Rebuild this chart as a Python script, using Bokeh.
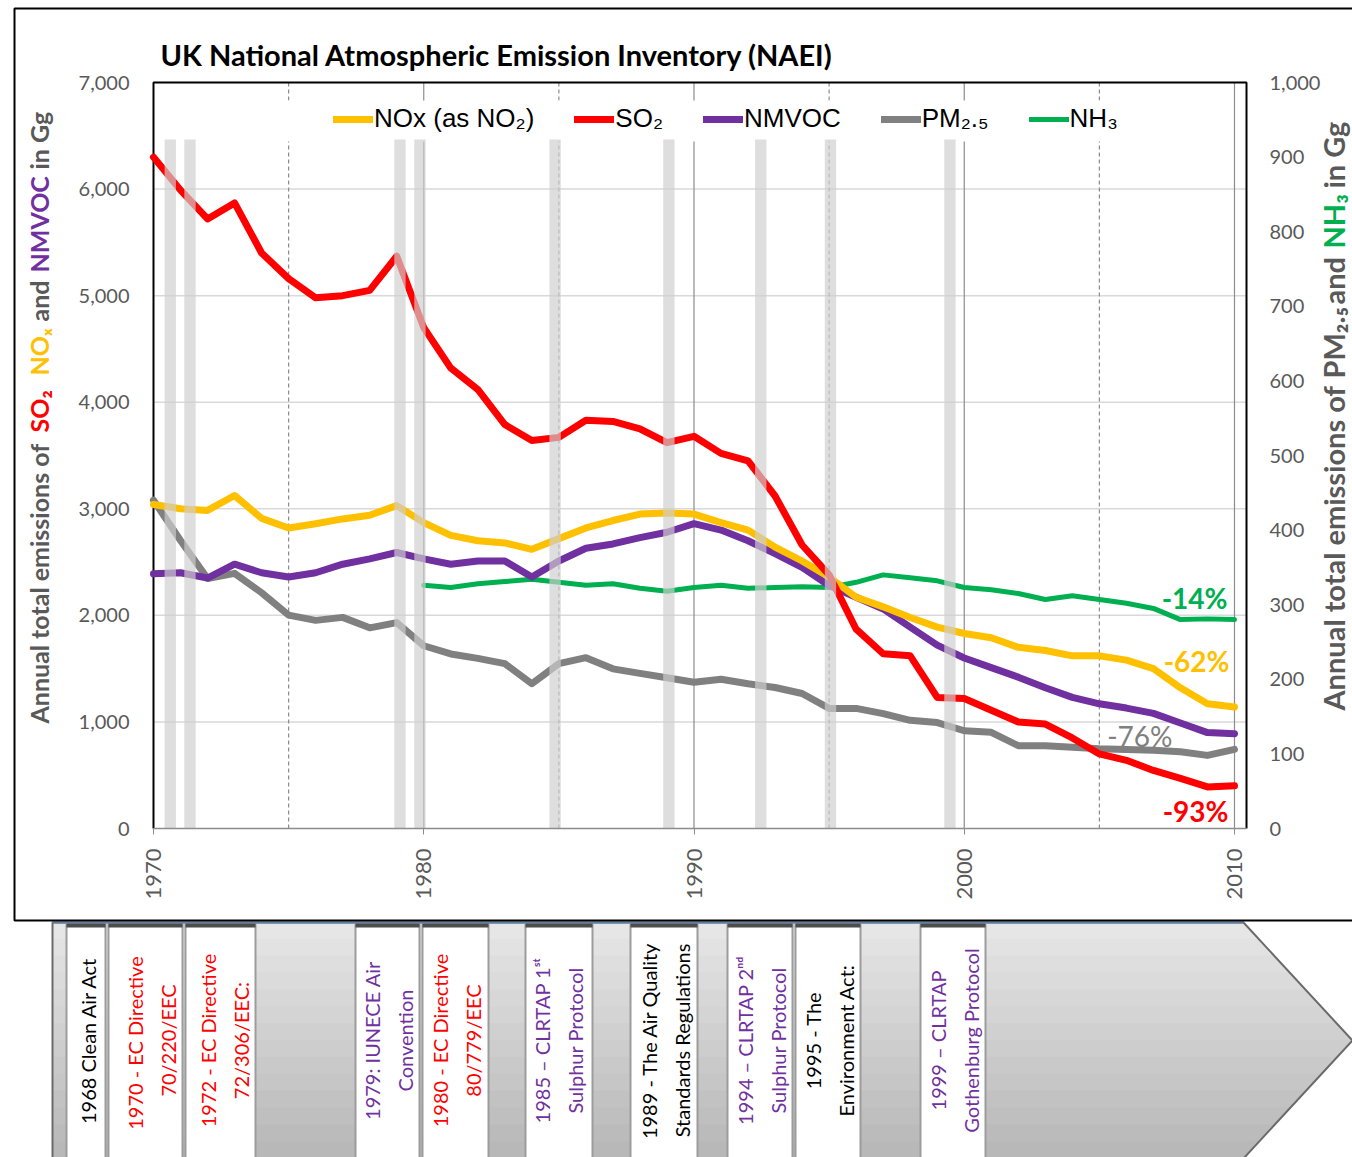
from math import pi
from bokeh.plotting import figure
from bokeh.models import (Range1d, LinearAxis, FixedTicker, NumeralTickFormatter, Legend,
                          LegendItem, Label, BoxAnnotation, ColumnDataSource)
from bokeh.embed import file_html
from bokeh.resources import INLINE
from bokeh.core.properties import value

# ---------------- data ----------------
years = list(range(1970, 2011))
so2 = [6300, 5990, 5720, 5870, 5400, 5160, 4980, 5000, 5050, 5370,
       4700, 4320, 4120, 3790, 3640, 3670, 3830, 3820, 3750, 3620,
       3680, 3520, 3450, 3120, 2660, 2380, 1870, 1640, 1620, 1230,
       1220, 1110, 1000, 980, 850, 700, 640, 545, 470, 390, 400]
nox = [3040, 3000, 2985, 3125, 2910, 2820, 2860, 2905, 2940, 3030,
       2870, 2750, 2700, 2680, 2620, 2720, 2820, 2890, 2950, 2960,
       2950, 2870, 2800, 2640, 2510, 2360, 2170, 2080, 1980, 1890,
       1830, 1790, 1700, 1670, 1620, 1620, 1580, 1500, 1320, 1170, 1140]
nmvoc = [2390, 2400, 2350, 2480, 2400, 2360, 2400, 2480, 2530, 2590,
         2530, 2480, 2510, 2510, 2360, 2510, 2630, 2670, 2730, 2780,
         2860, 2800, 2700, 2580, 2450, 2280, 2170, 2060, 1890, 1720,
         1600, 1510, 1420, 1320, 1230, 1170, 1130, 1080, 990, 900, 890]
pm25 = [440, 386, 335, 342, 316, 286, 279, 283, 269, 276,
        245, 234, 228, 221, 194, 221, 229, 214, 208, 202,
        196, 200, 194, 189, 181, 161, 161, 154, 145, 142,
        131, 129, 111, 111, 109, 107, 106, 105, 103, 98, 106]
nh3_years = list(range(1980, 2011))
nh3 = [326, 323, 328, 331, 334, 330, 326, 328, 322, 318,
       323, 326, 322, 323, 324, 323, 330, 340, 336, 332,
       323, 320, 315, 307, 312, 307, 302, 295, 280, 281, 280]

series_names = ["NOx (as NO₂)", "SO₂", "NMVOC", "PM₂.₅", "NH₃"]
series_colors = ["#FFC000", "#FF0000", "#7030A0", "#808080", "#00B050"]
change_text = ["-14%", "-62%", "-76%", "-93%"]
change_colors = ["#00B050", "#FFC000", "#808080", "#FF0000"]
event_years = [1970.62, 1971.35, 1979.12, 1979.86, 1984.86, 1989.07, 1992.47, 1995.05, 1999.47]
left_ticks = list(range(0, 7001, 1000))
right_ticks = list(range(0, 1001, 100))
x_ticks = [1970, 1980, 1990, 2000, 2010]
x_solid = [1980, 1990, 2000, 2010]
x_dashed = [1975, 1985, 1995, 2005]
title_text = "UK National Atmospheric Emission Inventory (NAEI)"
left_label_parts = ["Annual total emissions of", "SO₂", "NOₓ", "and", "NMVOC", "in Gg"]
left_label_colors = ["#595959", "#FF0000", "#FFC000", "#595959", "#7030A0", "#595959"]
right_label_parts = ["Annual total emissions of", "PM₂.₅", "and", "NH₃", "in Gg"]
right_label_colors = ["#595959", "#595959", "#595959", "#00B050", "#595959"]
timeline_texts = ["1968 Clean Air Act",
                  "1970 -  EC Directive\n70/220/EEC",
                  "1972 - EC Directive\n72/306/EEC:",
                  "1979: IUNECE Air\nConvention",
                  "1980 - EC Directive\n80/779/EEC",
                  "1985 – CLRTAP 1ˢᵗ\nSulphur Protocol",
                  "1989 - The Air Quality\nStandards Regulations",
                  "1994 – CLRTAP 2ⁿᵈ\nSulphur Protocol",
                  "1995 - The\nEnvironment Act:",
                  "1999 – CLRTAP\nGothenburg Protocol"]
timeline_colors = ["#000000", "#FF0000", "#FF0000", "#7030A0", "#FF0000",
                   "#7030A0", "#000000", "#7030A0", "#000000", "#7030A0"]

# ---------------- geometry (page pixels of the reference) ----------------
W, H = 1352, 1157
FL, FR, FT, FB = 153, 1246, 82, 828     # chart box on the page
X0 = 1970
PPX = (1234 - FL) / 40.0                # px per year
PPY = (FB - FT) / 7000.0                # px per Gg (left)
PPR = (FB - FT) / 1000.0                # px per Gg (right)


def sx2x(sx):
    return X0 + (sx - FL) / PPX


def sy2y(sy):
    return (FB - sy) / PPY


def sy2r(sy):
    return (FB - sy) / PPR


X1 = sx2x(FR)

p = figure(width=W, height=H, title=None,
           x_range=Range1d(sx2x(0), sx2x(W)), y_range=Range1d(sy2y(H), sy2y(0)),
           x_axis_type=None, y_axis_type=None, output_backend="svg",
           toolbar_location=None, min_border=0)
p.extra_y_ranges = {"right": Range1d(sy2r(H), sy2r(0))}
p.outline_line_color = None
p.xgrid.visible = False
p.ygrid.visible = False
p.background_fill_color = "white"
p.border_fill_color = "white"

# ---- axes fixed at the chart box edges ----
xa = LinearAxis(fixed_location=0, ticker=FixedTicker(ticks=x_ticks), bounds=(X0, X1))
xa.major_label_orientation = pi / 2
xa.major_label_text_font = "Lato"
xa.major_label_text_font_size = "22px"
xa.major_label_text_color = "#595959"
xa.major_label_standoff = 14
xa.axis_line_color = "#8c8c8c"
xa.axis_line_width = 1.5
xa.major_tick_line_color = "#8c8c8c"
xa.major_tick_out = 6
xa.major_tick_in = 0
xa.minor_tick_line_color = None
p.add_layout(xa, "below")

ya = LinearAxis(fixed_location=X0, ticker=FixedTicker(ticks=left_ticks), bounds=(0, 7000),
                formatter=NumeralTickFormatter(format="0,0"))
ra = LinearAxis(y_range_name="right", fixed_location=X1, ticker=FixedTicker(ticks=right_ticks),
                bounds=(0, 1000), formatter=NumeralTickFormatter(format="0,0"))
for ax, st in ((ya, 18), (ra, 17)):
    ax.major_label_text_font = "Lato"
    ax.major_label_text_font_size = "20px"
    ax.major_label_text_color = "#595959"
    ax.major_label_standoff = st
    ax.axis_line_color = None
    ax.major_tick_line_color = None
    ax.minor_tick_line_color = None
p.add_layout(ya, "left")
p.add_layout(ra, "right")

# ---- grid lines inside the chart box ----
p.segment(x0=X0, x1=X1, y0=left_ticks[1:], y1=left_ticks[1:], line_color="#d9d9d9", line_width=1.5)
p.segment(x0=x_solid, x1=x_solid, y0=0, y1=7000, line_color="#8c8c8c", line_width=1.2)
p.segment(x0=x_dashed, x1=x_dashed, y0=0, y1=7000, line_color="#8c8c8c", line_width=1.2,
          line_dash="4 3")

# white band behind the legend
p.quad(left=[sx2x(200)], right=[sx2x(1205)], bottom=[sy2y(141)], top=[sy2y(100)],
       fill_color="white", line_color=None)

# chart box border (left, top, right)
p.line([X0, X0, X1, X1], [0, 7000, 7000, 0], line_color="black", line_width=2)

# ---- series ----
src = ColumnDataSource(dict(year=years, so2=so2, nox=nox, nmvoc=nmvoc, pm25=pm25))
nh3_src = ColumnDataSource(dict(year=nh3_years, nh3=nh3))
lw = dict(line_join="round", line_cap="round")
r_nh3 = p.line("year", "nh3", source=nh3_src, y_range_name="right", line_color=series_colors[4],
               line_width=5, **lw)
r_pm = p.line("year", "pm25", source=src, y_range_name="right", line_color=series_colors[3],
              line_width=7, **lw)
r_voc = p.line("year", "nmvoc", source=src, line_color=series_colors[2], line_width=7, **lw)
r_nox = p.line("year", "nox", source=src, line_color=series_colors[0], line_width=7, **lw)
r_so2 = p.line("year", "so2", source=src, line_color=series_colors[1], line_width=7, **lw)

# event bars (semi-transparent, over the lines)
bw = 0.21
p.quad(left=[e - bw for e in event_years], right=[e + bw for e in event_years],
       bottom=0, top=sy2y(139), fill_color="#cfcfcf", fill_alpha=0.68, line_color=None)

legend = Legend(items=[LegendItem(label=n, renderers=[r]) for n, r in
                       zip(series_names, [r_nox, r_so2, r_voc, r_pm, r_nh3])],
                orientation="horizontal", location=(333, H - 120 - 14),
                label_text_font="Liberation Sans", label_text_font_size="26px",
                label_text_color="black", glyph_width=40, glyph_height=26,
                label_standoff=1, spacing=40, padding=0, margin=0,
                border_line_alpha=0, background_fill_alpha=0)
p.add_layout(legend)

# title
p.add_layout(Label(x=sx2x(160), y=sy2y(54), text=title_text, text_color="black", text_font="Lato",
                   text_font_size="29px", text_font_style="bold", text_align="left",
                   text_baseline="middle"))

# percent change labels
pct_pos = [(1227, 597, "bold"), (1229, 660, "bold"), (1172, 735, "normal"), (1228, 810, "bold")]
for t, c, (sx, sy, fs) in zip(change_text, change_colors, pct_pos):
    p.add_layout(Label(x=sx2x(sx), y=sy2y(sy), text=t, text_color=c, text_font="Lato",
                       text_font_size="28px", text_font_style=fs, text_align="right",
                       text_baseline="middle"))

# multi-coloured axis titles (each piece starts where it starts in the reference)
for t, c, sy in zip(left_label_parts, left_label_colors, [723, 432, 375, 321, 272, 169]):
    p.add_layout(Label(x=sx2x(38), y=sy2y(sy), text=t, text_color=c, angle=pi / 2,
                       text_font="Lato", text_font_size="25px", text_font_style="bold",
                       text_align="left", text_baseline="middle"))
for t, c, sy in zip(right_label_parts, right_label_colors, [710, 378, 304, 248, 188]):
    p.add_layout(Label(x=sx2x(1333), y=sy2y(sy), text=t, text_color=c, angle=pi / 2,
                       text_font="Lato", text_font_size="29px", text_font_style="bold",
                       text_align="left", text_baseline="middle"))

# outer border of the chart panel
p.add_layout(BoxAnnotation(left=sx2x(14), right=sx2x(1420), top=sy2y(8), bottom=sy2y(920),
                           fill_alpha=0, line_color="black", line_alpha=1, line_width=2))

# ---------------- timeline arrow ----------------
A_L, A_R, A_TOP, A_TIP, A_BOT, TIP_X = 52, 1243, 922, 1040, 1158, 1352


def right_edge(sy):
    if sy <= A_TIP:
        return A_R + (sy - A_TOP) * (TIP_X - A_R) / (A_TIP - A_TOP)
    return A_R + (A_BOT - sy) * (TIP_X - A_R) / (A_BOT - A_TIP)


nb = 14
bxs, bys, bcol = [], [], []
for i in range(nb):
    s0 = A_TOP + (A_BOT - A_TOP) * i / nb
    s1 = A_TOP + (A_BOT - A_TOP) * (i + 1) / nb
    pts = [(A_L, s0), (right_edge(s0), s0)]
    if s0 < A_TIP < s1:
        pts.append((TIP_X, A_TIP))
    pts += [(right_edge(s1), s1), (A_L, s1)]
    bxs.append([sx2x(a) for a, b in pts])
    bys.append([sy2y(b) for a, b in pts])
    g = int(230 - 46 * i / (nb - 1))
    bcol.append("#%02x%02x%02x" % (g, g, g))
p.patches(bxs, bys, fill_color=bcol, line_color=bcol, line_width=1)
outline = [(A_L, A_TOP), (A_R, A_TOP), (TIP_X, A_TIP), (A_R, A_BOT), (A_L, A_BOT)]
p.patch([sx2x(a) for a, b in outline], [sy2y(b) for a, b in outline], fill_alpha=0,
        line_color="#6a6a6a", line_width=2)
p.line([sx2x(A_L), sx2x(A_R)], [sy2y(A_TOP), sy2y(A_TOP)], line_color="#5b7fa6", line_width=2)

boxes = [(66, 105), (108, 182), (185, 255), (355, 419), (422, 488),
         (525, 592), (630, 697), (727, 792), (795, 860), (920, 985)]
p.quad(left=[sx2x(a) for a, b in boxes], right=[sx2x(b) for a, b in boxes],
       top=sy2y(924), bottom=sy2y(1165), fill_color="white", line_color="#9c9c9c", line_width=2)
p.quad(left=[sx2x(a) for a, b in boxes], right=[sx2x(b) for a, b in boxes],
       top=sy2y(923), bottom=sy2y(927), fill_color="#4d4d4d", line_color=None)

text_x = [87, 151, 224, 388, 456, 558, 665, 761, 829, 954]
tsrc = ColumnDataSource(dict(x=[sx2x(v) for v in text_x], y=[sy2y(1040)] * len(text_x),
                             text=timeline_texts, color=timeline_colors))
p.text("x", "y", text="text", source=tsrc, angle=pi / 2, text_align="center",
       text_baseline="middle", text_font=value("Lato"), text_font_size="20px",
       text_color="color", text_line_height=1.35)

open("out.html", "w").write(file_html(p, INLINE))
